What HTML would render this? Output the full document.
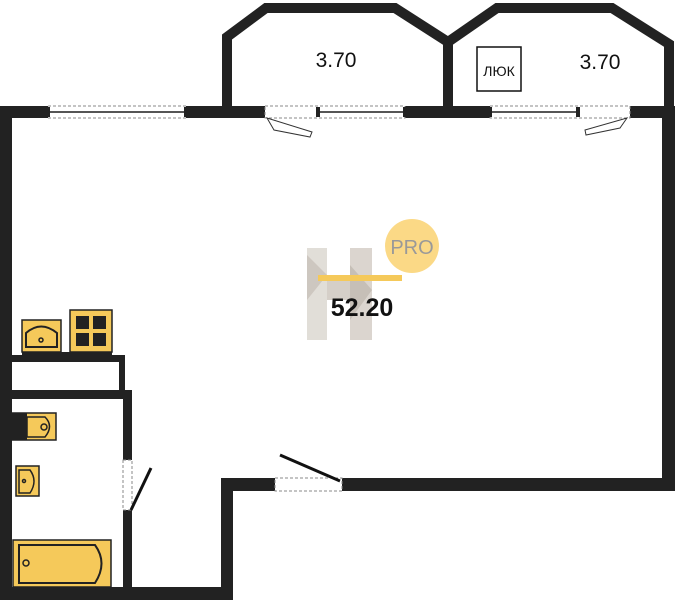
<!DOCTYPE html>
<html><head><meta charset="utf-8"><style>body{margin:0;background:#fff}svg{display:block}</style></head><body>
<svg width="675" height="600" viewBox="0 0 675 600" xmlns="http://www.w3.org/2000/svg" font-family="Liberation Sans, sans-serif">
<!-- logo -->
<g opacity="0.75">
<polygon points="307,248 327,248 327,340 307,340" fill="#d8d3cc"/>
<polygon points="350,248 372,248 372,340 350,340" fill="#cfc8bf"/>
<polygon points="307,255 327,275 307,300" fill="#bdb5ab"/>
<polygon points="350,265 372,290 350,320" fill="#b3aa9f"/>
<polygon points="327,280 350,280 350,300 327,300" fill="#c7c0b6"/>
</g>
<circle cx="412" cy="246" r="27" fill="#fbd986"/>
<text x="412" y="254" font-size="20" fill="#999" text-anchor="middle">PRO</text>
<rect x="318" y="275" width="84" height="6" fill="#f5c95a"/>
<text x="362" y="316" font-size="25" font-weight="bold" fill="#111" text-anchor="middle">52.20</text>
<!-- balconies -->
<g fill="none" stroke="#222" stroke-width="10" stroke-linejoin="miter">
<polyline points="227,110 227,37 266,8 395,8 448,42 448,110"/>
<polyline points="448,42 497,8 612,8 669,44 669,110"/>
</g>
<text x="336" y="67" font-size="21" fill="#111" text-anchor="middle">3.70</text>
<text x="600" y="69" font-size="21" fill="#111" text-anchor="middle">3.70</text>
<rect x="477" y="47" width="44" height="44" fill="none" stroke="#111" stroke-width="1.5"/>
<text x="499" y="76" font-size="14" fill="#111" text-anchor="middle">ЛЮК</text>
<!-- walls -->
<g fill="#222">
<rect x="0" y="106" width="48" height="12"/>
<rect x="186" y="106" width="79" height="12"/>
<rect x="405" y="106" width="85" height="12"/>
<rect x="630" y="106" width="45" height="12"/>
<rect x="0" y="106" width="12" height="494"/>
<rect x="662" y="106" width="13" height="385"/>
<rect x="342" y="478" width="333" height="13"/>
<rect x="221" y="478" width="54" height="13"/>
<rect x="221" y="478" width="12" height="122"/>
<rect x="0" y="587" width="233" height="13"/>
<rect x="0" y="390" width="132" height="9"/>
<rect x="123" y="390" width="9" height="70"/>
<rect x="123" y="510" width="9" height="80"/>
<rect x="12" y="355" width="113" height="7"/>
<rect x="119" y="355" width="6" height="35"/>
<rect x="22" y="352" width="90" height="4"/>
</g>
<!-- windows -->
<g stroke="#888" stroke-width="1" stroke-dasharray="3,2" fill="none">
<rect x="48" y="106" width="138" height="12"/>
<rect x="265" y="106" width="140" height="12"/>
<rect x="490" y="106" width="140" height="12"/>
<rect x="123" y="460" width="9" height="50"/>
<rect x="275" y="478" width="67" height="13"/>
</g>
<g stroke="#555" stroke-width="2">
<line x1="48" y1="112" x2="186" y2="112"/>
<line x1="318" y1="112" x2="405" y2="112"/>
<line x1="490" y1="112" x2="577" y2="112"/>
</g>
<g fill="#222"><rect x="46" y="107" width="4" height="10"/><rect x="184" y="107" width="4" height="10"/><rect x="316" y="107" width="4" height="10"/><rect x="403" y="107" width="4" height="10"/><rect x="488" y="107" width="4" height="10"/><rect x="576" y="107" width="4" height="10"/></g>
<g stroke="#333" stroke-width="1" fill="none">
<polygon points="267,118 274,130 310,137 312,132"/>
<polygon points="627,118 620,128 586,135 585,130"/>
</g>
<line x1="280" y1="455" x2="340" y2="481" stroke="#111" stroke-width="3"/>
<line x1="131" y1="510" x2="151" y2="468" stroke="#111" stroke-width="3"/>
<!-- fixtures -->
<g stroke="#222" stroke-width="1.5">
<rect x="22" y="320" width="39" height="32" fill="#f5c95a"/>
<path d="M26,347 L26,333 Q41,320 57,333 L57,347 Z" fill="#f5c95a" stroke-width="2"/>
<circle cx="41" cy="340" r="2" fill="none"/>
<rect x="70" y="310" width="42" height="42" fill="#f5c95a"/>
<rect x="12" y="413" width="44" height="27" fill="#f5c95a"/>
<rect x="16" y="466" width="23" height="30" fill="#f5c95a"/>
<rect x="13" y="540" width="98" height="47" fill="#f5c95a"/>
<path d="M19,545 L95,545 Q108,563 95,583 L19,583 Z" fill="#f5c95a" stroke-width="2"/>
<circle cx="26" cy="563" r="3" fill="none"/>
<path d="M27,417 L45,417 Q54,426 45,437 L27,437 Z" fill="none"/>
<circle cx="44" cy="427" r="3" fill="none"/>
<path d="M19,470 L30,470 Q38,481 30,493 L19,493 Z" fill="none"/>
<circle cx="24" cy="481" r="1.5" fill="none"/>
</g>
<rect x="12" y="413" width="15" height="27" fill="#222"/>
<g fill="#222"><rect x="76" y="316" width="13" height="13"/><rect x="93" y="316" width="13" height="13"/><rect x="76" y="333" width="13" height="13"/><rect x="93" y="333" width="13" height="13"/></g>
</svg>
</body></html>
